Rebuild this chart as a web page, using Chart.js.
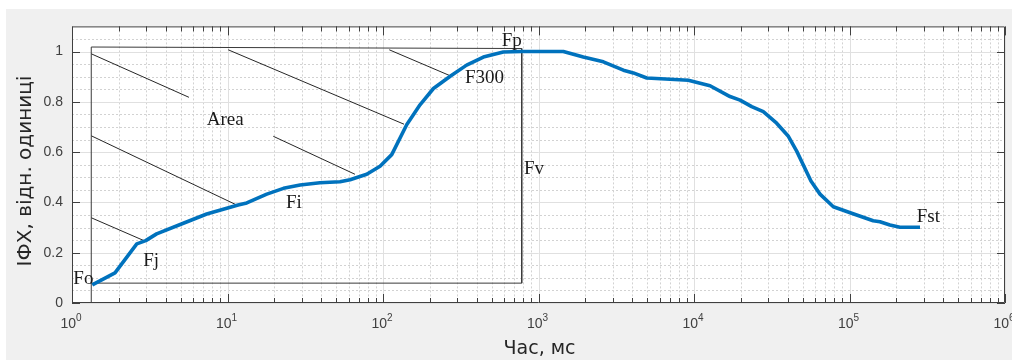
<!DOCTYPE html>
<html lang="uk">
<head>
<meta charset="UTF-8">
<title>ІФХ</title>
<script src="https://cdn.jsdelivr.net/npm/chart.js"></script>
<style>
  body { margin: 0; background: #fff; }
  .chartBox { position: absolute; left: 6px; top: 9px; width: 1006px; height: 351px; background: #f0f0f0; }
</style>
</head>
<body>
<div class="chartBox"><canvas id="ojip" width="1006" height="351"></canvas></div>
<script>
// main curve, time in ms (log axis) and relative fluorescence
const timeMs = [1.35, 1.89, 2.61, 2.98, 3.5, 5.2, 7.35, 11.7, 13.3, 17.9, 22.9, 29.3, 39.3, 52.9, 61.4, 78.6,
  95.7, 113.8, 142, 173, 211, 272, 345, 442, 594, 780, 1445, 1942, 2612, 3514, 4074, 4967, 7015, 9190,
  12680, 17050, 19780, 23500, 27900, 34000, 40450, 45750, 56500, 64600, 78700, 100000, 142000, 157000,
  182000, 211000, 284000];
const ifx = [0.072, 0.12, 0.235, 0.248, 0.275, 0.317, 0.354, 0.39, 0.398, 0.433, 0.456, 0.469, 0.478, 0.482, 0.49, 0.512,
  0.544, 0.59, 0.709, 0.788, 0.853, 0.903, 0.946, 0.978, 0.998, 1.0, 1.0, 0.978, 0.959, 0.926, 0.915, 0.895, 0.89, 0.886,
  0.864, 0.821, 0.807, 0.781, 0.761, 0.715, 0.663, 0.604, 0.485, 0.433, 0.383, 0.36, 0.327, 0.323,
  0.31, 0.301, 0.301];

// the "Area" frame (Fo .. Fp) and its hatch strokes
const frameT = [1.33, 1.33, 780, 780, 1.33];
const frameV = [0, 1.018, 1.012, 0.079, 0.079];
const hatchT0 = [1.33, 10.1, 109.7, 19.7, 1.33, 1.33];
const hatchV0 = [0.991, 1.007, 1.007, 0.663, 0.665, 0.339];
const hatchT1 = [5.65, 136.5, 272, 66, 11.7, 2.98];
const hatchV1 = [0.818, 0.711, 0.903, 0.512, 0.387, 0.245];

// text marks
const markText = ['Fo', 'Fj', 'Fi', 'Area', 'F300', 'Fp', 'Fv', 'Fst'];
const markT = [1.02, 2.87, 23.8, 7.35, 337, 580, 807, 270600];
const markV = [0.074, 0.146, 0.378, 0.709, 0.876, 1.024, 0.514, 0.321];

const xDecades = [1, 10, 100, 1000, 10000, 100000, 1000000];
const yTicks = [0, 0.2, 0.4, 0.6, 0.8, 1];

const xMinor = [];
xDecades.slice(0, -1).forEach(d => { for (let k = 2; k <= 9; k++) xMinor.push(d * k); });
const yMinor = [];
for (let i = 1; i <= 21; i++) { if (i % 4 !== 0) yMinor.push(i * 0.05); }

const datasets = [{
  data: timeMs.map((t, i) => ({ x: t, y: ifx[i] })),
  borderColor: '#0072BD',
  borderWidth: 3.6,
  borderJoinStyle: 'round',
  pointRadius: 0,
  tension: 0
}, {
  data: frameT.map((t, i) => ({ x: t, y: frameV[i] })),
  borderColor: '#3a3a3a',
  borderWidth: 1,
  pointRadius: 0,
  tension: 0
}];
hatchT0.forEach((t, i) => {
  datasets.push({
    data: [{ x: t, y: hatchV0[i] }, { x: hatchT1[i], y: hatchV1[i] }],
    borderColor: '#262626',
    borderWidth: 1,
    pointRadius: 0
  });
});

const axesDecor = {
  id: 'axesDecor',
  beforeDatasetsDraw(chart) {
    const { ctx, chartArea: a, scales: { x, y } } = chart;
    ctx.save();
    ctx.fillStyle = '#fff';
    ctx.fillRect(a.left, a.top, a.right - a.left, a.bottom - a.top);
    ctx.lineWidth = 1;
    // minor grid (dotted)
    ctx.strokeStyle = '#d2d2d2';
    ctx.setLineDash([2, 2]);
    ctx.beginPath();
    xMinor.forEach(v => { const px = Math.round(x.getPixelForValue(v)) + 0.5; ctx.moveTo(px, a.top); ctx.lineTo(px, a.bottom); });
    yMinor.forEach(v => { const py = Math.round(y.getPixelForValue(v)) + 0.5; ctx.moveTo(a.left, py); ctx.lineTo(a.right, py); });
    ctx.stroke();
    // major grid
    ctx.setLineDash([]);
    ctx.strokeStyle = '#e0e0e0';
    ctx.beginPath();
    xDecades.forEach(v => { const px = Math.round(x.getPixelForValue(v)) + 0.5; ctx.moveTo(px, a.top); ctx.lineTo(px, a.bottom); });
    yTicks.forEach(v => { const py = Math.round(y.getPixelForValue(v)) + 0.5; ctx.moveTo(a.left, py); ctx.lineTo(a.right, py); });
    ctx.stroke();
    ctx.restore();
  },
  afterDatasetsDraw(chart) {
    const { ctx, chartArea: a, scales: { x, y } } = chart;
    ctx.save();
    // box and inward ticks
    ctx.strokeStyle = '#404040';
    ctx.lineWidth = 1;
    ctx.beginPath();
    ctx.rect(a.left + 0.5, a.top + 0.5, a.right - a.left - 1, a.bottom - a.top - 1);
    xDecades.forEach(v => {
      const px = Math.round(x.getPixelForValue(v)) + 0.5;
      ctx.moveTo(px, a.bottom); ctx.lineTo(px, a.bottom - 9);
      ctx.moveTo(px, a.top); ctx.lineTo(px, a.top + 9);
    });
    xMinor.forEach(v => {
      const px = Math.round(x.getPixelForValue(v)) + 0.5;
      ctx.moveTo(px, a.bottom); ctx.lineTo(px, a.bottom - 5);
      ctx.moveTo(px, a.top); ctx.lineTo(px, a.top + 5);
    });
    yTicks.forEach(v => {
      const py = Math.round(y.getPixelForValue(v)) + 0.5;
      ctx.moveTo(a.left, py); ctx.lineTo(a.left + 8, py);
      ctx.moveTo(a.right, py); ctx.lineTo(a.right - 8, py);
    });
    ctx.stroke();

    // x tick labels 10^n
    ctx.fillStyle = '#404040';
    ctx.textBaseline = 'alphabetic';
    ctx.textAlign = 'left';
    xDecades.forEach((v, n) => {
      const px = x.getPixelForValue(v);
      ctx.font = '14px "Liberation Sans", Arial, sans-serif';
      const wBase = ctx.measureText('10').width;
      ctx.font = '10px "Liberation Sans", Arial, sans-serif';
      const wExp = ctx.measureText(String(n)).width;
      const left = px - (wBase + wExp) / 2 - 1;
      ctx.font = '14px "Liberation Sans", Arial, sans-serif';
      ctx.fillText('10', left, a.bottom + 25);
      ctx.font = '10px "Liberation Sans", Arial, sans-serif';
      ctx.fillText(String(n), left + wBase, a.bottom + 18);
    });

    // axis titles
    ctx.fillStyle = '#262626';
    ctx.textAlign = 'center';
    ctx.textBaseline = 'middle';
    ctx.font = '19px "DejaVu Sans", sans-serif';
    ctx.fillText('Час, мс', (a.left + a.right) / 2 + 1, a.bottom + 46);
    ctx.save();
    ctx.translate(20, 162);
    ctx.rotate(-Math.PI / 2);
    ctx.font = '20px "DejaVu Sans", sans-serif';
    ctx.fillText('ІФХ, відн. одиниці', 0, 0);
    ctx.restore();

    // annotation texts
    ctx.fillStyle = '#1a1a1a';
    ctx.textAlign = 'left';
    ctx.textBaseline = 'alphabetic';
    ctx.font = '19px "Liberation Serif", "Times New Roman", serif';
    markText.forEach((s, i) => {
      ctx.fillText(s, x.getPixelForValue(markT[i]), y.getPixelForValue(markV[i]));
    });
    ctx.restore();
  }
};

new Chart(document.getElementById('ojip'), {
  type: 'line',
  data: { datasets },
  options: {
    responsive: false,
    animation: false,
    layout: { padding: { top: 14, right: 7, left: 0, bottom: 0 } },
    plugins: { legend: { display: false }, tooltip: { enabled: false } },
    scales: {
      x: {
        type: 'logarithmic',
        min: 1,
        max: 1000000,
        afterBuildTicks: s => { s.ticks = xDecades.map(v => ({ value: v, major: true })); },
        afterFit: s => { s.height = 57; },
        grid: { display: false, drawTicks: false },
        border: { display: false },
        ticks: { display: false }
      },
      y: {
        min: 0,
        max: 1.1,
        afterBuildTicks: s => { s.ticks = yTicks.map(v => ({ value: v })); },
        afterFit: s => { s.width = 66; },
        grid: { display: false, drawTicks: false },
        border: { display: false },
        ticks: {
          padding: 9,
          color: '#404040',
          font: { family: 'Liberation Sans', size: 14 },
          callback: v => (v === 0 || v === 1) ? String(v) : v.toFixed(1)
        }
      }
    }
  },
  plugins: [axesDecor]
});
</script>
</body>
</html>
